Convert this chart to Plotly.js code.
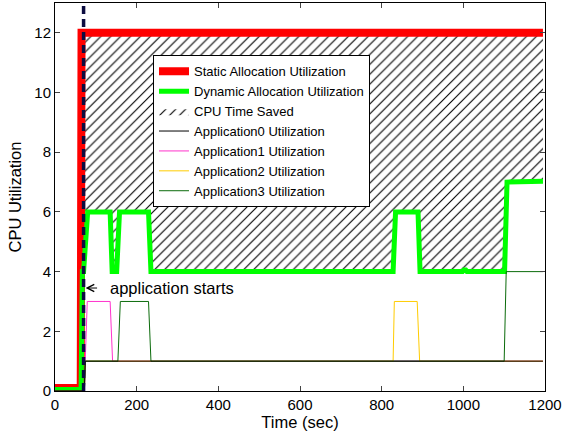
<!DOCTYPE html>
<html>
<head>
<meta charset="utf-8">
<script src="https://cdn.plot.ly/plotly-3.0.1.min.js"></script>
<style>html,body{margin:0;padding:0;background:#fff;}#chart{width:566px;height:434px;}</style>
</head>
<body>
<div id="chart"></div>
<script>
// ---- data ----
const staticTime = [0, 63, 65, 1195];
const staticUtil = [0.1, 0.1, 12, 12];

const dynamicTime = [0, 64, 67, 70, 80, 135, 140, 151, 158, 229, 235, 635, 638, 645, 648, 828, 834, 889, 894, 998, 1001, 1006, 1009, 1101, 1107, 1195];
const dynamicUtil = [0.05, 0.05, 4, 4, 6, 6, 4, 4, 6, 6, 4, 4, 4.03, 4.03, 4, 4, 6, 6, 4, 4, 4.05, 4.05, 4, 4, 7, 7.03];

const app0Time = [0, 72, 74, 1195];
const app0Util = [0, 0, 1, 1];
const app1Time = [0, 72, 74, 79, 135, 141, 1195];
const app1Util = [0, 0, 1, 3, 3, 1, 1];
const app2Time = [0, 72, 74, 828, 831, 887, 893, 1195];
const app2Util = [0, 0, 1, 1, 3, 3, 1, 1];
const app3Time = [0, 72, 74, 154, 160, 229, 235, 1100, 1105, 1195];
const app3Util = [0, 0, 1, 1, 3, 3, 1, 1, 4, 4];

const startTime = 70;
const startLineY = [0, 13];
const startLabelY = 3.45;

const xTicks = [0, 200, 400, 600, 800, 1000, 1200];
const yTicks = [0, 2, 4, 6, 8, 10, 12];

const FONT = "Liberation Sans, Arial, Helvetica, sans-serif";

const traces = [
  {x: staticTime, y: staticUtil, mode: 'lines', name: 'Static Allocation Utilization',
   line: {color: '#ff0000', width: 8}, legendrank: 1},
  {x: dynamicTime, y: dynamicUtil, mode: 'lines', name: 'CPU Time Saved',
   line: {width: 0}, fill: 'tonexty', fillcolor: 'rgba(255,255,255,0)',
   fillpattern: {shape: '/', fgcolor: '#000000', bgcolor: 'rgba(255,255,255,0)', size: 7, solidity: 0.16},
   legendrank: 3},
  {x: dynamicTime, y: dynamicUtil, mode: 'lines', name: 'Dynamic Allocation Utilization',
   line: {color: '#00ff00', width: 5}, legendrank: 2},
  {x: app1Time, y: app1Util, mode: 'lines', name: 'Application1 Utilization',
   line: {color: '#ff33cc', width: 1}, legendrank: 5},
  {x: app2Time, y: app2Util, mode: 'lines', name: 'Application2 Utilization',
   line: {color: '#ffcc00', width: 1}, legendrank: 6},
  {x: app3Time, y: app3Util, mode: 'lines', name: 'Application3 Utilization',
   line: {color: '#0b6b0b', width: 1}, legendrank: 7},
  {x: app0Time, y: app0Util, mode: 'lines', name: 'Application0 Utilization',
   line: {color: '#000000', width: 1}, legendrank: 4},
  {x: [startTime, startTime], y: startLineY, mode: 'lines', showlegend: false,
   line: {color: '#0c0c40', width: 3.5, dash: '8px,5px'}, hoverinfo: 'skip'}
];

const layout = {
  width: 566, height: 434,
  margin: {l: 55, r: 21, t: 3, b: 43},
  paper_bgcolor: '#ffffff', plot_bgcolor: '#ffffff',
  font: {family: FONT, size: 15, color: '#000000'},
  showlegend: true,
  legend: {
    x: 0.2, y: 0.865, xanchor: 'left', yanchor: 'top',
    bgcolor: '#ffffff', bordercolor: '#000000', borderwidth: 1,
    font: {family: FONT, size: 13, color: '#000000'},
    itemwidth: 30, tracegroupgap: 0, traceorder: 'normal'
  },
  xaxis: {
    range: [0, 1200], tickvals: xTicks, ticks: 'inside', ticklen: 5,
    showline: true, linecolor: '#000000', linewidth: 1, mirror: 'ticks',
    showgrid: false, zeroline: false,
    tickfont: {family: FONT, size: 15, color: '#000000'},
    title: {text: 'Time (sec)', font: {family: FONT, size: 16.5, color: '#000000'}, standoff: 2}
  },
  yaxis: {
    range: [0, 13], tickvals: yTicks, ticks: 'inside', ticklen: 5,
    showline: true, linecolor: '#000000', linewidth: 1, mirror: 'ticks',
    showgrid: false, zeroline: false,
    tickfont: {family: FONT, size: 15, color: '#000000'},
    title: {text: 'CPU Utilization', font: {family: FONT, size: 16.5, color: '#000000'}, standoff: 8}
  },
  annotations: [
    {
      x: startTime, y: startLabelY, xref: 'x', yref: 'y',
      text: ' ', showarrow: true, ax: 17, ay: 0,
      arrowhead: 5, arrowsize: 1.4, arrowwidth: 1, arrowcolor: '#000000', standoff: 2
    },
    {
      x: startTime, y: startLabelY, xref: 'x', yref: 'y',
      text: 'application starts', showarrow: false,
      xanchor: 'left', yanchor: 'middle', xshift: 24,
      font: {family: FONT, size: 16.5, color: '#000000'}
    }
  ]
};

Plotly.newPlot('chart', traces, layout, {displayModeBar: false, staticPlot: true});
</script>
</body>
</html>
